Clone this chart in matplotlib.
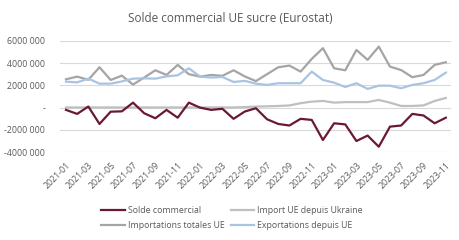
import numpy as np
import matplotlib
matplotlib.use('Agg')
from matplotlib import pyplot as plt
from matplotlib.ticker import FuncFormatter

months = [f"{y}-{m:02d}" for y in (2021, 2022, 2023) for m in range(1, 13)][:35]

# valeurs en tonnes (en millions)
solde = [-0.2, -0.56, 0.1, -1.46, -0.36, -0.33, 0.45, -0.5, -0.95, -0.2,
         -0.9, 0.45, 0.0, -0.2, -0.1, -1.0, -0.35, -0.05, -1.04, -1.46,
         -1.6, -1.0, -1.1, -2.9, -1.4, -1.5, -2.99, -2.5, -3.5, -1.7,
         -1.6, -0.56, -0.7, -1.4, -0.9]
import_ukraine = [0.02, 0.02, 0.02, 0.02, 0.02, 0.02, 0.02, 0.02, 0.02, 0.02,
                  0.02, 0.02, 0.02, 0.02, 0.02, 0.02, 0.05, 0.1, 0.12, 0.15,
                  0.2, 0.4, 0.54, 0.6, 0.45, 0.5, 0.5, 0.5, 0.69, 0.45,
                  0.15, 0.15, 0.2, 0.6, 0.87]
importations = [2.54, 2.78, 2.5, 3.62, 2.48, 2.87, 2.07, 2.7, 3.35, 2.93,
                3.83, 3.0, 2.78, 2.93, 2.85, 3.35, 2.8, 2.38, 3.0, 3.62,
                3.77, 3.23, 4.37, 5.33, 3.53, 3.35, 5.17, 4.28, 5.47, 3.68,
                3.37, 2.73, 2.93, 3.83, 4.07]
exportations = [2.33, 2.27, 2.6, 2.15, 2.15, 2.35, 2.6, 2.63, 2.6, 2.8,
                2.9, 3.53, 2.78, 2.7, 2.75, 2.3, 2.4, 2.15, 2.04, 2.19,
                2.19, 2.19, 3.23, 2.48, 2.24, 1.85, 2.19, 1.68, 1.97, 1.97,
                1.74, 2.04, 2.19, 2.48, 3.14]

plt.rcParams['font.family'] = ['Open Sans', 'DejaVu Sans']

fig = plt.figure(figsize=(4.6, 2.4), dpi=100)
ax = fig.add_axes([60.4/460, 1 - 152.3/240, 391/460, 111.6/240])

x = np.arange(len(months))
s = 1e6
ax.plot(x, np.array(import_ukraine)*s, color='#BFBFBF', lw=1.6, label='Import UE depuis Ukraine', zorder=3)
ax.plot(x, np.array(importations)*s, color='#A5A5A5', lw=1.6, label='Importations totales UE', zorder=3)
ax.plot(x, np.array(exportations)*s, color='#A9C4E2', lw=1.6, label='Exportations depuis UE', zorder=3)
ax.plot(x, np.array(solde)*s, color='#6B1838', lw=1.6, label='Solde commercial', zorder=4)

ax.set_xlim(-0.5, len(months) - 0.5)
ax.set_ylim(-4e6, 6e6)
ax.set_yticks(np.arange(-4e6, 6e6 + 1, 2e6))

def fmt(v, pos):
    if v == 0:
        return '-'
    n = int(round(v))
    sign = '-' if n < 0 else ''
    n = abs(n)
    return f"{sign}{n // 1000000}000 000"

ax.yaxis.set_major_formatter(FuncFormatter(fmt))
ax.set_xticks(x[::2])
ax.set_xticklabels(months[::2], rotation=45, ha='right', rotation_mode='anchor')
ax.tick_params(axis='both', length=0, labelsize=6.3, colors='#595959')
ax.tick_params(axis='y', pad=11)
ax.tick_params(axis='x', pad=6)
ax.grid(axis='y', color='#D9D9D9', lw=0.8)
ax.set_axisbelow(True)
for sp in ax.spines.values():
    sp.set_visible(False)

fig.text(0.5, 1 - 19/240, 'Solde commercial UE sucre (Eurostat)', ha='center', va='center',
         fontsize=8.5, color='#595959')

h, l = ax.get_legend_handles_labels()
order = [3, 1, 0, 2]
leg = fig.legend([h[i] for i in order], [l[i] for i in order], ncol=2,
                 loc='center', bbox_to_anchor=(232/460, 1 - 218/240), frameon=False,
                 fontsize=6.3, handlelength=2.7, handletextpad=0.3, columnspacing=0.7,
                 labelspacing=0.75, labelcolor='#595959')

fig.savefig('out.png', dpi=100)
